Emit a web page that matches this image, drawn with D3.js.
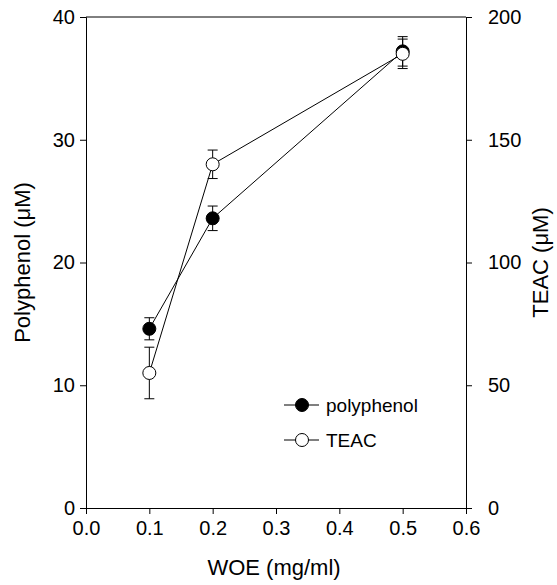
<!DOCTYPE html>
<html>
<head>
<meta charset="utf-8">
<script src="https://cdn.jsdelivr.net/npm/d3@7"></script>
<style>
  body { margin: 0; background: #fff; }
  svg { font-family: 'Liberation Sans', Arial, sans-serif; }
</style>
</head>
<body>
<script>
// data
const doses = [0.1, 0.2, 0.5]
const polyphenol = [14.6, 23.6, 37.2]
const polyphenolErr = [0.9, 1.0, 1.2]
const teac = [55, 140, 185]
const teacErr = [10.5, 5.8, 6.0]

const xTicks = [0, 0.1, 0.2, 0.3, 0.4, 0.5, 0.6]
const leftTicks = [0, 10, 20, 30, 40]
const rightTicks = [0, 50, 100, 150, 200]

const w = 557
const h = 585
const plotLeft = 86, plotRight = 466, plotTop = 17, plotBottom = 508

const svg = d3.select('body')
    .append('svg')
        .attr('width', w)
        .attr('height', h)

const xScale = d3.scaleLinear().domain([0, 0.6]).range([plotLeft, plotRight])
const yLeft = d3.scaleLinear().domain([0, 40]).range([plotBottom, plotTop])
const yRight = d3.scaleLinear().domain([0, 200]).range([plotBottom, plotTop])

// frame top line
svg.append('line')
    .attr('x1', plotLeft).attr('x2', plotRight)
    .attr('y1', plotTop).attr('y2', plotTop)
    .attr('stroke', '#000')

const styleAxis = g => {
    g.select('.domain').attr('stroke', '#000')
    g.selectAll('.tick line').attr('stroke', '#000')
    g.selectAll('text').attr('fill', '#000').style('font-size', '20px')
        .style('font-family', "'Liberation Sans', Arial, sans-serif")
}

svg.append('g')
    .attr('transform', `translate(0, ${plotBottom})`)
    .call(d3.axisBottom(xScale).tickValues(xTicks).tickFormat(d3.format('.1f'))
        .tickSizeOuter(0).tickSize(6).tickPadding(7))
    .call(styleAxis)

svg.append('g')
    .attr('transform', `translate(${plotLeft}, 0)`)
    .call(d3.axisLeft(yLeft).tickValues(leftTicks).tickSizeOuter(0).tickSize(6).tickPadding(5))
    .call(styleAxis)

svg.append('g')
    .attr('transform', `translate(${plotRight}, 0)`)
    .call(d3.axisRight(yRight).tickValues(rightTicks).tickSizeOuter(0).tickSize(6).tickPadding(16))
    .call(styleAxis)

// axis titles
svg.append('text')
    .attr('x', (plotLeft + plotRight) / 2 - 2)
    .attr('y', 575)
    .attr('text-anchor', 'middle')
    .style('font-size', '22px')
    .text('WOE (mg/ml)')

svg.append('text')
    .attr('transform', `translate(30, ${(plotTop + plotBottom) / 2}) rotate(-90)`)
    .attr('text-anchor', 'middle')
    .style('font-size', '22px')
    .text('Polyphenol (\u03BCM)')

svg.append('text')
    .attr('transform', `translate(548, ${(plotTop + plotBottom) / 2}) rotate(-90)`)
    .attr('text-anchor', 'middle')
    .style('font-size', '22px')
    .text('TEAC (\u03BCM)')

// series
const series = [
    { name: 'polyphenol', values: polyphenol, errs: polyphenolErr, y: yLeft, fill: '#000' },
    { name: 'TEAC', values: teac, errs: teacErr, y: yRight, fill: '#fff' }
]

const line = (s) => d3.line()
    .x((d, i) => xScale(doses[i]))
    .y(d => s.y(d))

series.forEach(s => {
    const g = svg.append('g')

    g.append('path')
        .datum(s.values)
        .attr('d', line(s))
        .attr('fill', 'none')
        .attr('stroke', '#000')
        .attr('stroke-width', 1)

    const eb = g.selectAll('.err')
        .data(s.values)
        .enter()
        .append('g')

    eb.append('line')
        .attr('x1', (d, i) => xScale(doses[i]))
        .attr('x2', (d, i) => xScale(doses[i]))
        .attr('y1', (d, i) => s.y(d - s.errs[i]))
        .attr('y2', (d, i) => s.y(d + s.errs[i]))
        .attr('stroke', '#000')

    ;[-1, 1].forEach(sign => {
        eb.append('line')
            .attr('x1', (d, i) => xScale(doses[i]) - 5)
            .attr('x2', (d, i) => xScale(doses[i]) + 5)
            .attr('y1', (d, i) => s.y(d + sign * s.errs[i]))
            .attr('y2', (d, i) => s.y(d + sign * s.errs[i]))
            .attr('stroke', '#000')
    })

    g.selectAll('.pt')
        .data(s.values)
        .enter()
        .append('circle')
            .attr('cx', (d, i) => xScale(doses[i]))
            .attr('cy', d => s.y(d))
            .attr('r', 6.5)
            .attr('fill', s.fill)
            .attr('stroke', '#000')
})

// legend
const legend = svg.append('g')
series.forEach((s, i) => {
    const ly = 405 + i * 35
    legend.append('line')
        .attr('x1', 284).attr('x2', 319)
        .attr('y1', ly).attr('y2', ly)
        .attr('stroke', '#000')
    legend.append('circle')
        .attr('cx', 302).attr('cy', ly)
        .attr('r', 6.5)
        .attr('fill', s.fill)
        .attr('stroke', '#000')
    legend.append('text')
        .attr('x', 326).attr('y', ly)
        .attr('dy', '0.35em')
        .style('font-size', '19px')
        .text(s.name)
})
</script>
</body>
</html>
